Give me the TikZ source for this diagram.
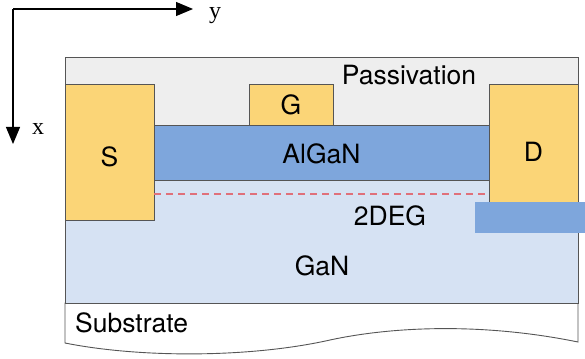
\documentclass[tikz,border=0pt]{standalone}
\usepackage{fontspec}
\setmainfont{TeX Gyre Heros}
\newfontfamily\axisfont{Liberation Serif}
\usetikzlibrary{positioning,arrows.meta}
\definecolor{passgray}{HTML}{EEEEEE}
\definecolor{metal}{HTML}{FBD577}
\definecolor{algan}{HTML}{7EA6DC}
\definecolor{gan}{HTML}{D6E2F3}
\definecolor{twodeg}{HTML}{E0707A}
\definecolor{edgegray}{HTML}{555555}
\tikzset{
    >={Triangle[length=17pt,width=14pt]},
    layer/.style={
        rectangle,
        draw=edgegray,
        line width=0.9pt,
        inner sep=0pt,
        outer sep=0pt,
        anchor=north west
    },
    contact/.style={
        layer,
        fill=metal
    },
    tag/.style={
        font=\fontsize{26.5}{29}\selectfont,
        inner sep=0pt
    },
    axis/.style={
        font=\axisfont\fontsize{24}{26}\selectfont,
        inner sep=0pt,
        anchor=base
    }
}

\begin{document}
\begin{tikzpicture}[x=1pt, y=-1pt]
\useasboundingbox (0,0) rectangle (585,358);

% Axes
\coordinate (origin) at (13,9);
\coordinate (yend) at (193,9);
\coordinate (xend) at (13,144);
\draw[->, line width=1.1pt] (origin) -- (yend);
\draw[->, line width=1.1pt] (origin) -- (xend);
\node[axis] (ylab) at (215,19) {y};
\node[axis] (xlab) at (38,135) {x};

% Substrate
\draw[edgegray, line width=0.9pt, fill=white]
    (65,303) -- (65,343)
    .. controls (140,358) and (250,358) .. (330,340)
    .. controls (390,327) and (480,322) .. (578,342)
    -- (578,303) -- cycle;

% Layers
\node[layer, fill=gan, minimum width=513pt, minimum height=123pt] (gan) at (65,180) {};
\node[layer, fill=passgray, minimum width=513pt, minimum height=68pt] (pass) at (65,57) {};
\node[layer, fill=algan, minimum width=335pt, minimum height=55pt] (algan) at (154,125) {};

% Contacts
\node[contact, minimum width=89pt, minimum height=136pt] (src) at (65,84) {};
\node[contact, minimum width=89pt, minimum height=136pt] (drn) at (489,84) {};
\node[contact, minimum width=84pt, minimum height=41pt] (gate) at (249,84) {};

% 2DEG channel
\draw[twodeg, dashed, line width=1.4pt, dash pattern=on 7pt off 5pt]
    (algan.south west) ++(0,14) -- ++(335,0);

% Blue patch over drain
\fill[algan] (475,202) rectangle (585,233);

% Texts
\node[tag] (passlab) at (409,75) {Passivation};
\node[tag] at (gate.center) {G};
\node[tag] at ([yshift=-1pt]algan.center) {AlGaN};
\node[tag] at ([yshift=-5pt]src.center) {S};
\node[tag] at (drn.center) {D};
\node[tag] (deglab) at (390,216) {2DEG};
\node[tag] at (322,266) {GaN};
\node[tag, anchor=west] (sublab) at (75,323) {Substrate};

\end{tikzpicture}
\end{document}
